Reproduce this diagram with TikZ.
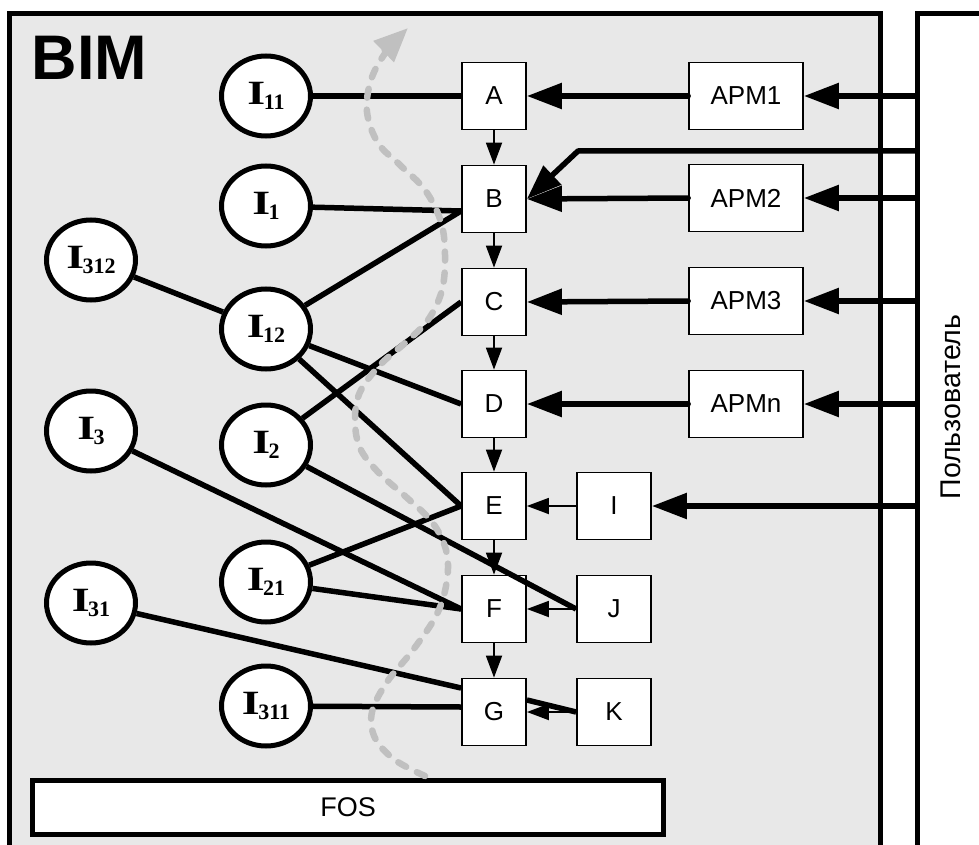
\documentclass[tikz,border=0pt]{standalone}
\usepackage{fontspec}
\setmainfont{Liberation Serif}
\newfontfamily\arialfont{Liberation Sans}
\usetikzlibrary{arrows.meta,calc,shapes.geometric}

\definecolor{bimgrey}{RGB}{232,232,232}
\definecolor{pathgrey}{RGB}{192,192,192}

% bold I with a lowered subscript index
\newcommand\ilabel[1]{%
  \scalebox{1.35}[1]{\fontsize{34}{34}\selectfont\bfseries I}%
  \kern-1.5pt\raisebox{-5.5pt}{\fontsize{22}{22}\selectfont\bfseries #1}}

\begin{document}
\begin{tikzpicture}[x=1pt,y=-1pt,
  circ/.style={ellipse, draw, line width=5pt, fill=white,
    minimum width=89pt, minimum height=80pt, inner sep=0pt},
  sq/.style={rectangle, draw, line width=1.8pt, fill=white,
    minimum width=64pt, minimum height=67pt, inner sep=0pt,
    font=\arialfont\fontsize{26}{26}\selectfont},
  apm/.style={sq, minimum width=114pt},
  sqr/.style={sq, minimum width=74pt},
  link/.style={line width=5.5pt},
  bigarrow/.style={line width=5.5pt, line join=round,
    -{Triangle[length=35pt,width=25pt]}},
  smallarrow/.style={line width=1.8pt,
    -{Triangle[length=22pt,width=16pt]}},
  flow/.style={pathgrey, line width=6.5pt, line cap=round,
    dash pattern=on 9pt off 12pt,
    -{Triangle[length=34pt,width=28pt]}}
]
\useasboundingbox (0,0) rectangle (979,845);
\clip (0,0) rectangle (979,845);
\fill[white] (0,0) rectangle (979,845);

% user panel on the right
\draw[line width=5pt] (1000,14) -- (917,14) -- (917,870);
\node[rotate=90, font=\arialfont\fontsize{28.5}{28.5}\selectfont] (user) at (951,407) {Пользователь};

% BIM panel
\fill[bimgrey] (9,14) rectangle (880,870);
\draw[line width=5pt] (9,870) -- (9,14) -- (880,14) -- (880,870);
\node[anchor=base west, font=\arialfont\bfseries\fontsize{63}{63}\selectfont] (bim) at (28,80) {BIM};

% FOS bar
\node[draw, line width=5pt, fill=white, minimum width=631pt, minimum height=54pt,
  inner sep=0pt, font=\arialfont\fontsize{27}{27}\selectfont] (fos) at (348,807.5) {FOS};

% information nodes
\node[circ] (I11)  at (266,96)  {\ilabel{11}};
\node[circ] (I1)   at (266,206) {\ilabel{1}};
\node[circ] (I312) at (91,260)  {\ilabel{312}};
\node[circ] (I12)  at (266,329) {\ilabel{12}};
\node[circ] (I3)   at (91,431)  {\ilabel{3}};
\node[circ] (I2)   at (266,445) {\ilabel{2}};
\node[circ] (I21)  at (266,582) {\ilabel{21}};
\node[circ] (I31)  at (91,603)  {\ilabel{31}};
\node[circ] (I311) at (266,706) {\ilabel{311}};

% processing chain
\node[sq] (A) at (494,96)  {A};
\node[sq] (B) at (494,199) {B};
\node[sq] (C) at (494,302) {C};
\node[sq] (D) at (494,404) {D};
\node[sq] (E) at (494,506) {E};
\node[sq] (F) at (494,609) {F};
\node[sq] (G) at (494,712) {G};

% workstations
\node[apm] (APM1) at (746,96)  {APM1};
\node[apm] (APM2) at (746,198) {APM2};
\node[apm] (APM3) at (746,301) {APM3};
\node[apm] (APMn) at (746,404) {APMn};

% auxiliary inputs
\node[sqr] (I) at (614,506) {I};
\node[sqr] (J) at (614,609) {J};
\node[sqr] (K) at (614,712) {K};

% attachment points
\coordinate (b1) at ($(B.west)+(0,12)$);
\coordinate (g1) at ($(G.west)+(0,-24)$);
\coordinate (g2) at ($(G.west)+(0,-5)$);
\coordinate (g3) at ($(G.east)+(0,-12)$);
\coordinate (u1) at (917,96);
\coordinate (ub) at (917,151);
\coordinate (ubk) at (578,151);
\coordinate (u2) at (917,198);
\coordinate (u3) at (917,301);
\coordinate (un) at (917,404);
\coordinate (ui) at (917,506);

% links between information nodes and the chain
\draw[link] (I11) -- (A.west);
\draw[link] (I1) -- (b1);
\draw[link] (I12) -- (b1);
\draw[link] (I312) -- (I12);
\draw[link] (I12) -- (D.west);
\draw[link] (I12) -- (E.west);
\draw[link] (I2) -- (C.west);
\draw[link] (I2) -- (J.west);
\draw[link] (I3) -- (F.west);
\draw[link] (I21) -- (E.west);
\draw[link] (I21) -- (F.west);
\draw[link] (I31) -- (g1);
\draw[link] (I311) -- (g2);
\draw[link] (K.west) -- (g3);

% chain order
\draw[smallarrow] (A.south) -- (B.north);
\draw[smallarrow] (B.south) -- (C.north);
\draw[smallarrow] (C.south) -- (D.north);
\draw[smallarrow] (D.south) -- (E.north);
\draw[smallarrow] (E.south) -- (F.north);
\draw[smallarrow] (F.south) -- (G.north);
\draw[smallarrow] (I.west) -- (E.east);
\draw[smallarrow] (J.west) -- (F.east);
\draw[smallarrow] (K.west) -- (G.east);

% workstation inputs
\draw[bigarrow, line cap=round] (APM1.west) -- (A.east);
\draw[bigarrow, line cap=round] (APM2.west) -- (B.east);
\draw[bigarrow, line cap=round] (APM3.west) -- (C.east);
\draw[bigarrow, line cap=round] (APMn.west) -- (D.east);

% user inputs
\draw[bigarrow] (u1) -- (APM1.east);
\draw[bigarrow] (ub) -- (ubk) -- (B.east);
\draw[bigarrow] (u2) -- (APM2.east);
\draw[bigarrow] (u3) -- (APM3.east);
\draw[bigarrow] (un) -- (APMn.east);
\draw[bigarrow] (ui) -- (I.east);

% processing flow
\draw[flow] plot[smooth, tension=0.6] coordinates {
  (425,776) (395,760) (375,738) (372,712) (387,682) (413,650) (437,614)
  (447,580) (446,550) (432,522) (405,496) (378,472) (360,448) (355,420)
  (360,392) (380,365) (405,343) (428,320) (442,290) (445,255) (441,222)
  (425,190) (400,165) (378,143) (367,112) (371,80) (386,52) (408,28)};
\end{tikzpicture}
\end{document}
